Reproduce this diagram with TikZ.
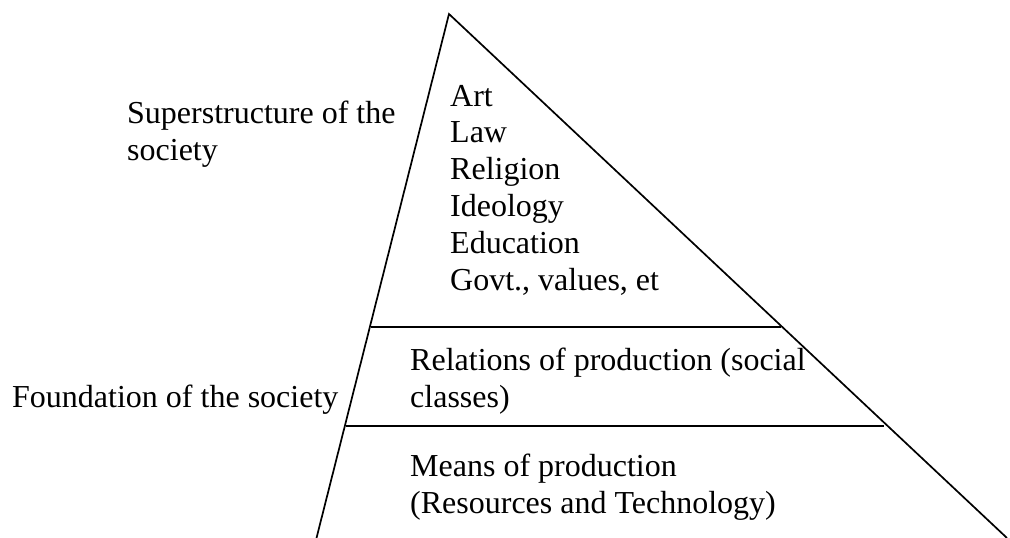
\documentclass[tikz,border=0pt]{standalone}
\usepackage{fontspec}
\setmainfont{Liberation Serif}

\begin{document}
\begin{tikzpicture}[x=1pt, y=-1pt,
    label text/.style={anchor=base west, inner sep=0pt, align=left,
        font=\fontsize{32}{36.8}\selectfont}]
    \useasboundingbox (0, 0) rectangle (1010, 538);

    % pyramid outline
    \coordinate (apex) at (449, 14);
    \coordinate (left-foot) at (316.5, 538);
    \coordinate (right-foot) at (1007, 538);
    \draw[line width=1.7pt] (left-foot) -- (apex) -- (right-foot);

    % layer borders
    \draw[line width=1.7pt] (370.5, 327) -- (781, 327);
    \draw[line width=1.7pt] (345.5, 426) -- (883.5, 426);

    % superstructure (base = last line)
    \node[label text] (superstructure) at (127, 160)
        {Superstructure of the\\society};
    \node[label text] (superitems) at (450, 290)
        {Art\\Law\\Religion\\Ideology\\Education\\Govt., values, et};

    % foundation
    \node[label text] (foundation) at (12, 407) {Foundation of the society};
    \node[label text] (relations) at (410, 407)
        {Relations of production (social\\classes)};
    \node[label text] (means) at (410, 513)
        {Means of production\\(Resources and Technology)};
\end{tikzpicture}
\end{document}
